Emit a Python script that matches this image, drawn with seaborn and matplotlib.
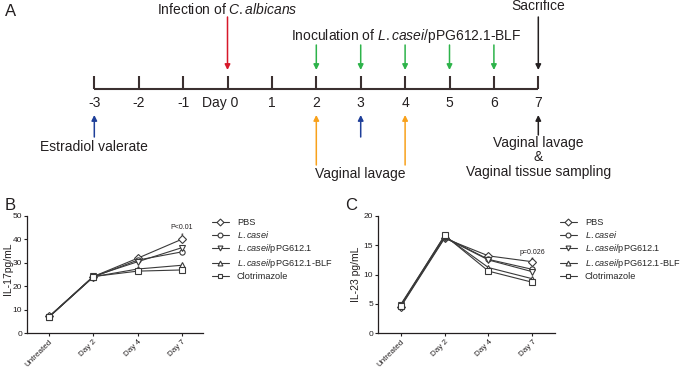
import pandas as pd
import matplotlib.pyplot as plt
import seaborn as sns
from matplotlib.lines import Line2D

sns.set_style("ticks")
plt.rcParams['font.family'] = ['Liberation Sans', 'DejaVu Sans']
plt.rcParams['mathtext.fontset'] = 'custom'
plt.rcParams['mathtext.rm'] = 'Liberation Sans'
plt.rcParams['mathtext.it'] = 'Liberation Sans:italic'

# datos
timepoints = ['Untreated', 'Day 2', 'Day 4', 'Day 7']
groups = ['PBS', 'L.casei', 'L.casei/pPG612.1', 'L.casei/pPG612.1-BLF', 'Clotrimazole']
group_labels = ['PBS', r'$\it{L.casei}$', r'$\it{L.casei/}$pPG612.1',
                r'$\it{L.casei/}$pPG612.1-BLF', 'Clotrimazole']
group_markers = {'PBS': 'D', 'L.casei': 'o', 'L.casei/pPG612.1': 'v',
                 'L.casei/pPG612.1-BLF': '^', 'Clotrimazole': 's'}

il17 = {
    'PBS': [7.2, 24.2, 32.0, 40.1],
    'L.casei': [7.0, 24.0, 31.2, 34.7],
    'L.casei/pPG612.1': [7.1, 24.3, 30.5, 36.5],
    'L.casei/pPG612.1-BLF': [7.0, 24.1, 27.4, 29.0],
    'Clotrimazole': [7.1, 24.2, 26.5, 27.0],
}
il23 = {
    'PBS': [4.5, 16.2, 13.2, 12.2],
    'L.casei': [4.6, 16.4, 12.6, 10.9],
    'L.casei/pPG612.1': [4.8, 16.3, 12.5, 10.5],
    'L.casei/pPG612.1-BLF': [4.9, 16.6, 11.2, 9.3],
    'Clotrimazole': [4.7, 16.7, 10.6, 8.7],
}

# timeline
days = list(range(-3, 8))
inoculation_days = [2, 3, 4, 5, 6]
lavage_days = [2, 4]
estradiol_days = [-3, 3]
infection_day = 0
sacrifice_day = 7

dark = '#231f20'
axis_col = '#3b3030'
red = '#d7182a'
green = '#2db34a'
orange = '#f8a11b'
blue = '#1f3f99'

fig = plt.figure(figsize=(6.85, 3.69), dpi=100)

# Panel A
ax_a = fig.add_axes([0, 0, 1, 1], zorder=0)
ax_a.set_xlim(-5.124, 10.304)
ax_a.set_ylim(369, 0)
ax_a.axis('off')

ax_a.hlines(89.3, days[0], days[-1], color=axis_col, lw=1.5)
ax_a.vlines(days, 76, 89.3, color=axis_col, lw=1.5)
for d in days:
    if d == 0:
        ax_a.text(d + 0.25, 103, 'Day 0', ha='right', va='center', fontsize=10, color=dark)
    else:
        ax_a.text(d, 103, str(d), ha='center', va='center', fontsize=10, color=dark)


def arrow(x, y_from, y_to, col):
    ax_a.annotate('', xy=(x, y_to), xytext=(x, y_from),
                  arrowprops=dict(arrowstyle='-|>', color=col, lw=1.1,
                                  mutation_scale=8, shrinkA=0, shrinkB=0))


arrow(infection_day, 17, 70, red)
for d in inoculation_days:
    arrow(d, 45, 70, green)
arrow(sacrifice_day, 17, 70, dark)
for d in lavage_days:
    arrow(d, 165, 115, orange)
for d in estradiol_days:
    arrow(d, 137, 115, blue)
arrow(sacrifice_day, 135, 115, dark)

ax_a.text(infection_day, 9, r'Infection of $\it{C.albicans}$', ha='center', va='center', fontsize=10, color=dark)
ax_a.text(4.02, 36, r'Inoculation of $\it{L.casei/}$pPG612.1-BLF', ha='center', va='center', fontsize=10, color=dark)
ax_a.text(sacrifice_day, 6, 'Sacrifice', ha='center', va='center', fontsize=10, color=dark)
ax_a.text(-3, 147, 'Estradiol valerate', ha='center', va='center', fontsize=10, color=dark)
ax_a.text(3, 174, 'Vaginal lavage', ha='center', va='center', fontsize=10, color=dark)
ax_a.text(sacrifice_day, 143, 'Vaginal lavage', ha='center', va='center', fontsize=10, color=dark)
ax_a.text(sacrifice_day, 157, '&', ha='center', va='center', fontsize=10, color=dark)
ax_a.text(sacrifice_day, 172, 'Vaginal tissue sampling', ha='center', va='center', fontsize=10, color=dark)

fig.text(5 / 685, 1 - 205 / 369, 'B', fontsize=12, va='center', color=dark)
fig.text(345 / 685, 1 - 205 / 369, 'C', fontsize=12, va='center', color=dark)
fig.text(5 / 685, 1 - 11 / 369, 'A', fontsize=12, va='center', color=dark)


def panel(rect, data, xlim, ymax, ystep, ylabel, label_xy, note, note_y, star_y):
    ax = fig.add_axes(rect, zorder=1)
    ax.patch.set_alpha(0)
    rows = []
    for g in groups:
        for t, v in zip(timepoints, data[g]):
            rows.append({'time': t, 'value': v, 'group': g})
    df = pd.DataFrame(rows)
    sns.lineplot(data=df, x='time', y='value', style='group', style_order=groups,
                 markers=group_markers, dashes=False, color='#3a3a3a', sort=False,
                 errorbar=None, legend=False, ax=ax, linewidth=0.8,
                 markersize=3.8, markeredgewidth=0.8)
    for line in ax.lines:
        line.set_markerfacecolor('white')
        line.set_markeredgecolor('#3a3a3a')
    ax.set_xlim(*xlim)
    ax.set_ylim(0, ymax)
    ax.set_yticks(range(0, ymax + 1, ystep))
    ax.set_xlabel('')
    ax.set_ylabel(ylabel, fontsize=7.5, color=dark)
    ax.yaxis.set_label_coords(*label_xy)
    ax.tick_params(axis='both', length=2.5, width=0.8, pad=1, colors=dark)
    ax.tick_params(axis='x', labelsize=5.8)
    ax.tick_params(axis='y', labelsize=6)
    plt.setp(ax.get_xticklabels(), rotation=45, ha='right', rotation_mode='anchor')
    for s in ['top', 'right']:
        ax.spines[s].set_visible(False)
    for s in ['left', 'bottom']:
        ax.spines[s].set_linewidth(0.9)
        ax.spines[s].set_color(dark)
    ax.text(3, note_y, note, fontsize=5, ha='center', va='center', color=dark)
    ax.text(3, star_y, '*', fontsize=5, ha='center', va='center', color=dark)
    return ax


ax_b = panel([27 / 685, 0.0967, 176 / 685, 0.318], il17, (-0.5, 3.476), 50, 10,
             'IL-17pg/mL', (-0.082, 0.55), 'P<0.01', 45.3, 41.4)
ax_c = panel([378 / 685, 0.0967, 177 / 685, 0.318], il23, (-0.517, 3.515), 20, 5,
             'IL-23 pg/mL', (-0.098, 0.5), 'p=0.026', 13.8, 12.6)

handles = [Line2D([], [], color='#3a3a3a', lw=0.8, marker=group_markers[g], markersize=3.5,
                  markerfacecolor='white', markeredgewidth=0.8) for g in groups]
for x0 in [212 / 685, 560 / 685]:
    fig.legend(handles, group_labels, loc='upper left', bbox_to_anchor=(x0, 1 - 218 / 369),
               frameon=False, fontsize=6.6, handlelength=1.8, handletextpad=0.9,
               labelspacing=0.22, borderaxespad=0, borderpad=0)

plt.savefig('out.png', dpi=100)
